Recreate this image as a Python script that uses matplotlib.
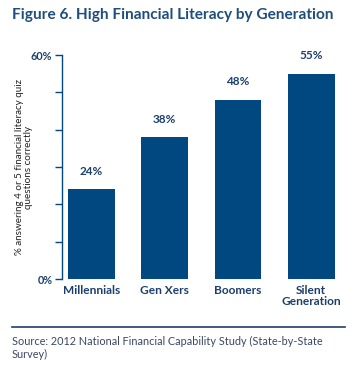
import matplotlib.pyplot as plt

# Data
generations = ["Millennials", "Gen Xers", "Boomers", "Silent\nGeneration"]
pct_correct = [24, 38, 48, 55]
y_ticks = [0, 10, 20, 30, 40, 50, 60]
y_tick_labels = ["0%", "", "", "", "", "", "60%"]

navy = "#00487f"
text_blue = "#1b3f6b"

plt.rcParams['font.family'] = ['Lato', 'DejaVu Sans']

fig = plt.figure(figsize=(3.57, 3.75), dpi=100)
ax = fig.add_axes([62/357, 96/375, 286/357, 224/375])

x = range(len(generations))
bars = ax.bar(x, pct_correct, width=0.64, color=navy)
for xi, v in zip(x, pct_correct):
    ax.text(xi, v + 3.3, f"{v}%", ha='center', va='bottom',
            fontsize=8.5, fontweight='bold', color=text_blue)

ax.set_xlim(-0.40, 3.5)
ax.set_ylim(0, 60)
ax.set_yticks(y_ticks)
ax.set_yticklabels(y_tick_labels, fontsize=7.8, fontweight='bold', color=text_blue)
ax.set_xticks(list(x))
ax.set_xticklabels(generations, fontsize=8.6, fontweight='bold', color=text_blue,
                   linespacing=1.1)
ax.tick_params(axis='x', length=0, pad=4)
ax.tick_params(axis='y', length=5, width=1, color=navy, pad=2)

for s in ['top', 'right', 'bottom']:
    ax.spines[s].set_visible(False)
ax.spines['left'].set_color(navy)
ax.spines['left'].set_linewidth(1)

# label's right edge sits about 30px left of the spine
ax.set_ylabel("% answering 4 or 5 financial literacy quiz\nquestions correctly",
              fontsize=7.1, color='#222222', linespacing=1.1)
ax.yaxis.set_label_coords(-0.10, 0.5)

# Title
fig.text(12/357, 1 - 15/375, "Figure 6. High Financial Literacy by Generation",
         fontsize=11.1, fontweight='bold', color='#1f4e7d', va='center', ha='left')

# Source rule and note
fig.add_artist(plt.Line2D([12/357, 345/357], [1 - 327/375, 1 - 327/375],
                          color='#1f3f6b', linewidth=1.2))
fig.text(12/357, 1 - 336/375,
         "Source: 2012 National Financial Capability Study (State-by-State\nSurvey)",
         fontsize=7.8, color='#3a4766', va='top', ha='left', linespacing=1.25)

fig.savefig("out.png", dpi=100)
